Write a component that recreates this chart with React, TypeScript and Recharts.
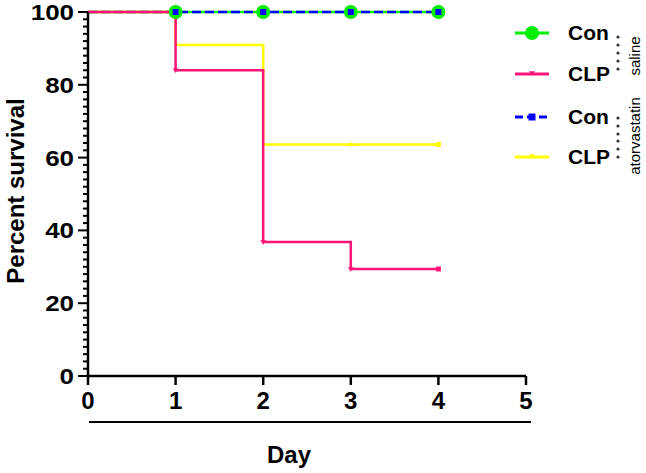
import { LineChart, Line, XAxis, YAxis } from "recharts";

const days = [0, 1, 2, 3, 4];
const conSaline = [100, 100, 100, 100, 100];
const clpSaline = [100, 84, 36.8, 29.4, 29.4];
const conAtorvastatin = [100, 100, 100, 100, 100];
const clpAtorvastatin = [100, 90.9, 63.6, 63.6, 63.6];

const xTicks = [0, 1, 2, 3, 4, 5];
const yLabelTicks = [0, 20, 40, 60, 80, 100];
const yMinorTicks = Array.from({ length: 51 }, (_, i) => i * 2);

const FONT = "'Liberation Sans', Arial, sans-serif";
const GREEN = "#00ee00";
const PINK = "#ff1478";
const BLUE = "#0000ff";
const YELLOW = "#ffff00";

const data = days.map((d, i) => ({
  day: d,
  conSaline: conSaline[i],
  clpSaline: clpSaline[i],
  conAtorvastatin: conAtorvastatin[i],
  clpAtorvastatin: clpAtorvastatin[i],
}));

function YTick({ x, y, payload }: any) {
  const major = yLabelTicks.includes(payload.value);
  return (
    <g>
      <line x1={x - (major ? 10 : 5)} x2={x} y1={y} y2={y} stroke="#000" strokeWidth={2} />
      {major && (
        <text
          transform={`translate(${x - 14},${y + 8}) scale(1.18,1)`}
          textAnchor="end"
          fontFamily={FONT}
          fontWeight="bold"
          fontSize={22}
          fill="#000"
        >
          {payload.value}
        </text>
      )}
    </g>
  );
}

function XTick({ x, y, payload }: any) {
  return (
    <g>
      <line x1={x} x2={x} y1={y} y2={y + 9} stroke="#000" strokeWidth={2.5} />
      <text x={x} y={y + 33} textAnchor="middle" fontFamily={FONT} fontWeight="bold" fontSize={24} fill="#000">
        {payload.value}
      </text>
    </g>
  );
}

const triDown = (cx: number, cy: number, s: number, color: string, key: string) => (
  <path key={key} d={`M${cx - s},${cy - s * 0.6} L${cx + s},${cy - s * 0.6} L${cx},${cy + s * 0.9} Z`} fill={color} />
);
const triUp = (cx: number, cy: number, s: number, color: string, key: string) => (
  <path key={key} d={`M${cx - s},${cy + s * 0.6} L${cx + s},${cy + s * 0.6} L${cx},${cy - s * 0.9} Z`} fill={color} />
);
const square = (cx: number, cy: number, s: number, color: string, key: string) => (
  <rect key={key} x={cx - s / 2} y={cy - s / 2} width={s} height={s} fill={color} />
);

function GreenDot({ cx, cy, index }: any) {
  if (index === 0) return <g key={`g${index}`} />;
  return <circle key={`g${index}`} cx={cx} cy={cy} r={7} fill={GREEN} />;
}
function BlueDot({ cx, cy, index }: any) {
  if (index === 0) return <g key={`b${index}`} />;
  return square(cx, cy, 6, BLUE, `b${index}`);
}
function PinkDot({ cx, cy, index }: any) {
  if (index === 0) return <g key={`p${index}`} />;
  if (index === 4) return square(cx, cy, 5, PINK, `p${index}`);
  return triDown(cx, cy, 3, PINK, `p${index}`);
}
function YellowDot({ cx, cy, index }: any) {
  if (index === 3) return triUp(cx, cy, 3, YELLOW, `y${index}`);
  if (index === 4) return square(cx, cy, 5, YELLOW, `y${index}`);
  return <g key={`y${index}`} />;
}

const legendRows = [
  { label: "Con", color: GREEN, y: 33, dash: undefined, marker: "circle" },
  { label: "CLP", color: PINK, y: 74, dash: undefined, marker: "tri" },
  { label: "Con", color: BLUE, y: 117, dash: "8 4", marker: "square" },
  { label: "CLP", color: YELLOW, y: 157, dash: undefined, marker: "tri" },
];

function Overlay() {
  const salineDots = [37, 45, 53, 61, 69];
  const atorDots = [118, 126, 134, 141, 149, 157];
  return (
    <svg width={646} height={473} style={{ position: "absolute", left: 0, top: 0, pointerEvents: "none" }}>
      {legendRows.map((r, i) => (
        <g key={i}>
          <line x1={515} x2={549} y1={r.y} y2={r.y} stroke={r.color} strokeWidth={3} strokeDasharray={r.dash} />
          {r.marker === "circle" && <circle cx={532} cy={r.y} r={7} fill={r.color} />}
          {r.marker === "square" && square(532, r.y, 7, r.color, "s")}
          {r.marker === "tri" && triDown(532, r.y - 1, 3, r.color, "t")}
          <text x={568} y={r.y + 7} fontFamily={FONT} fontWeight="bold" fontSize={21} fill="#000">
            {r.label}
          </text>
        </g>
      ))}
      {salineDots.map((y) => (
        <circle key={`sd${y}`} cx={618} cy={y} r={1.6} fill="#333" />
      ))}
      {atorDots.map((y) => (
        <circle key={`ad${y}`} cx={618} cy={y} r={1.6} fill="#333" />
      ))}
      <text x={640} y={56} transform="rotate(-90 640 56)" textAnchor="middle" fontFamily={FONT} fontSize={15} fill="#000">
        saline
      </text>
      <text x={640} y={136} transform="rotate(-90 640 136)" textAnchor="middle" fontFamily={FONT} fontSize={15} fill="#000">
        atorvastatin
      </text>
      <line x1={89} x2={531} y1={422} y2={422} stroke="#000" strokeWidth={2} />
    </svg>
  );
}

export default function App() {
  return (
    <div style={{ position: "absolute", left: 0, top: 0, width: 646, height: 473, background: "#fff" }}>
      <LineChart width={646} height={473} data={data} margin={{ top: 12, right: 120, bottom: 37, left: 0 }}>
        <XAxis
          dataKey="day"
          type="number"
          domain={[0, 5]}
          ticks={xTicks}
          interval={0}
          height={60}
          tickLine={false}
          tickSize={0}
          tickMargin={0}
          axisLine={{ stroke: "#000", strokeWidth: 2.5 }}
          tick={<XTick />}
          label={{
            content: () => (
              <text x={289} y={463} textAnchor="middle" fontFamily={FONT} fontWeight="bold" fontSize={24} fill="#000">
                Day
              </text>
            ),
          }}
        />
        <YAxis
          type="number"
          domain={[0, 100]}
          ticks={yMinorTicks}
          interval={0}
          width={88}
          tickLine={false}
          tickSize={0}
          tickMargin={0}
          axisLine={{ stroke: "#000", strokeWidth: 2.5 }}
          tick={<YTick />}
          label={{
            content: () => (
              <text x={24} y={191} transform="rotate(-90 24 191)" textAnchor="middle" fontFamily={FONT} fontWeight="bold" fontSize={24} fill="#000">
                Percent survival
              </text>
            ),
          }}
        />
        <Line type="stepAfter" dataKey="conSaline" stroke={GREEN} strokeWidth={2.5} dot={GreenDot} isAnimationActive={false} />
        <Line type="stepAfter" dataKey="conAtorvastatin" stroke={BLUE} strokeWidth={2.5} strokeDasharray="9 4" dot={BlueDot} isAnimationActive={false} />
        <Line type="stepAfter" dataKey="clpAtorvastatin" stroke={YELLOW} strokeWidth={2.5} dot={YellowDot} isAnimationActive={false} />
        <Line type="stepAfter" dataKey="clpSaline" stroke={PINK} strokeWidth={2.5} dot={PinkDot} isAnimationActive={false} />
      </LineChart>
      <Overlay />
    </div>
  );
}
